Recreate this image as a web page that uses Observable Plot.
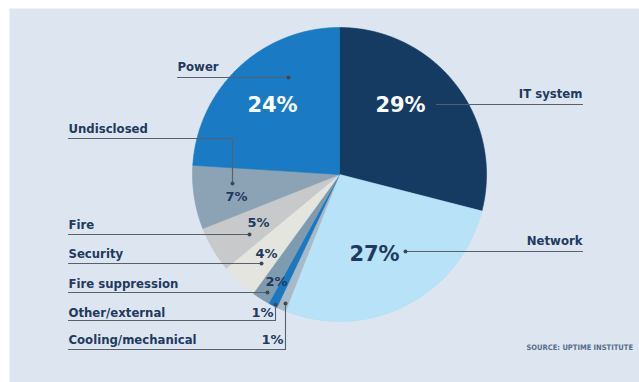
<!DOCTYPE html>
<html><head><meta charset="utf-8">
<script src="https://cdn.jsdelivr.net/npm/d3@7"></script>
<script src="https://cdn.jsdelivr.net/npm/@observablehq/plot@0.6"></script>
<style>
html,body{margin:0;padding:0;background:#fff;}
#chart svg{display:block;}
g[aria-label="names"] text, g[aria-label="small-pct"] text{font-stretch:condensed;}
g[aria-label="source"] text{letter-spacing:1.05px;font-stretch:condensed;}
</style></head><body><div id="chart"></div>
<script>
// ---- data ----
const categories = ["IT system","Network","Cooling/mechanical","Other/external","Fire suppression","Security","Fire","Undisclosed","Power"];
const shares = [29,27,1,1,2,4,5,7,24];
const shareLabels = ["29%","27%","1%","1%","2%","4%","5%","7%","24%"];
const sourceNote = "SOURCE: UPTIME INSTITUTE";

// ---- styles ----
const sliceColors = ["#163b63","#b8e2f7","#a9b9c5","#1a78c0","#7f9bb0","#e3e5de","#c8c9cb","#8ba3b5","#1a7bc4"];
const textNavy = "#1f3a5e";
const leaderGray = "#56616c";

// ---- layout (pixel-space scale units) ----
const W = 639, H = 382;
const center = {x: 339, y: 174}, radius = 147;
const layout = {
  "IT system":         {name:[582,97,"end"],  pct:[400,105,"big","#ffffff"], dot:null,     path:[[436,104],[582,104]]},
  "Network":           {name:[582,244,"end"], pct:[374,254,"big",textNavy],  dot:[405,251], path:[[405,251],[582,251]]},
  "Power":             {name:[177,70,"start"],pct:[272,105,"big","#ffffff"], dot:[288,77],  path:[[177,77],[288,77]]},
  "Undisclosed":       {name:[68,132,"start"],pct:[236,196,"small"],         dot:[232,183], path:[[68,138],[232,138],[232,183]]},
  "Fire":              {name:[68,228,"start"],pct:[258,222,"small"],         dot:[249,234], path:[[68,234],[249,234]]},
  "Security":          {name:[68,257,"start"],pct:[266,253,"small"],         dot:[261,263], path:[[68,263],[261,263]]},
  "Fire suppression":  {name:[68,287,"start"],pct:[276,281,"small"],         dot:[267,292], path:[[68,292],[267,292]]},
  "Other/external":    {name:[68,316,"start"],pct:[262,312,"small"],         dot:[275,304], path:[[68,320],[275,320],[275,304]]},
  "Cooling/mechanical":{name:[68,343,"start"],pct:[272,339,"small"],         dot:[285,303], path:[[68,349],[285,349],[285,303]]}
};

const rows = categories.map((c,i)=>({name:c, share:shares[i], label:shareLabels[i], color:sliceColors[i]}));

// slice outlines from d3.pie angles (clockwise from 12 o'clock)
const arcs = d3.pie().sort(null).value(d=>d.share).startAngle(0).endAngle(2*Math.PI)(rows);
function slicePoints(a){
  const n = Math.max(2, Math.ceil((a.endAngle-a.startAngle)/(Math.PI/360)));
  const pts = [{x:center.x,y:center.y}];
  for(let i=0;i<=n;i++){
    const t = a.startAngle+(a.endAngle-a.startAngle)*i/n;
    pts.push({x:center.x+radius*Math.sin(t), y:center.y-radius*Math.cos(t)});
  }
  pts.push({x:center.x,y:center.y});
  return pts;
}

const leaders = rows.flatMap(r=>layout[r.name].path.map(p=>({name:r.name,x:p[0],y:p[1]})));
const dots = rows.filter(r=>layout[r.name].dot).map(r=>({name:r.name,x:layout[r.name].dot[0],y:layout[r.name].dot[1]}));
const names = rows.map(r=>({name:r.name,x:layout[r.name].name[0],y:layout[r.name].name[1],anchor:layout[r.name].name[2]}));
const bigPct = rows.filter(r=>layout[r.name].pct[2]==="big").map(r=>({label:r.label,x:layout[r.name].pct[0],y:layout[r.name].pct[1],c:layout[r.name].pct[3]}));
const smallPct = rows.filter(r=>layout[r.name].pct[2]==="small").map(r=>({label:r.label,x:layout[r.name].pct[0],y:layout[r.name].pct[1]}));

const font = "'DejaVu Sans Condensed','DejaVu Sans',sans-serif";
const nameOpts = {x:"x", y:"y", text:"name", lineAnchor:"bottom", fill:textNavy, fontSize:13, fontWeight:"bold", fontFamily:font, ariaLabel:"names"};

const chart = Plot.plot({
  width: W, height: H, margin: 0,
  x: {domain:[0,W], range:[0,W], axis:null},
  y: {domain:[0,H], range:[0,H], axis:null},
  style: {background:"transparent", overflow:"visible"},
  marks: [
    Plot.frame({fill:"#dde6f0", stroke:"none", insetLeft:9, insetTop:8}),
    // shadow disc under the pie
    Plot.dot([center], {x:"x", y:"y", r:radius, fill:"#b8c4d0", stroke:"none", ariaLabel:"pie-shadow"}),
    ...arcs.map(a => Plot.line(slicePoints(a), {x:"x", y:"y", fill:a.data.color, stroke:a.data.color, strokeWidth:0.6, curve:"linear"})),
    Plot.line(leaders, {x:"x", y:"y", z:"name", stroke:leaderGray, strokeWidth:1.1, curve:"linear"}),
    Plot.dot(dots, {x:"x", y:"y", r:2, fill:"#3f4954", stroke:"none"}),
    Plot.text(names.filter(d=>d.anchor==="start"), {...nameOpts, textAnchor:"start"}),
    Plot.text(names.filter(d=>d.anchor==="end"), {...nameOpts, textAnchor:"end"}),
    Plot.text(bigPct, {x:"x", y:"y", text:"label", fill:d=>d.c, fontSize:21, fontWeight:"bold",
      fontFamily:"'DejaVu Sans',sans-serif", textAnchor:"middle", lineAnchor:"middle"}),
    Plot.text(smallPct, {x:"x", y:"y", text:"label", fill:textNavy, fontSize:13, fontWeight:"bold",
      fontFamily:"'DejaVu Sans',sans-serif", textAnchor:"middle", lineAnchor:"middle", ariaLabel:"small-pct"}),
    Plot.text([sourceNote], {x:()=>526, y:()=>349, text:d=>d, textAnchor:"start", lineAnchor:"bottom",
      fill:"#566b8a", fontSize:7.5, fontWeight:"bold", fontFamily:font, ariaLabel:"source"})
  ]
});
document.getElementById("chart").appendChild(chart);
const g = chart.querySelector('g[aria-label="pie-shadow"]');
if (g) g.style.filter = "drop-shadow(2px 2px 4px rgba(20,30,50,0.45))";
</script></body></html>
